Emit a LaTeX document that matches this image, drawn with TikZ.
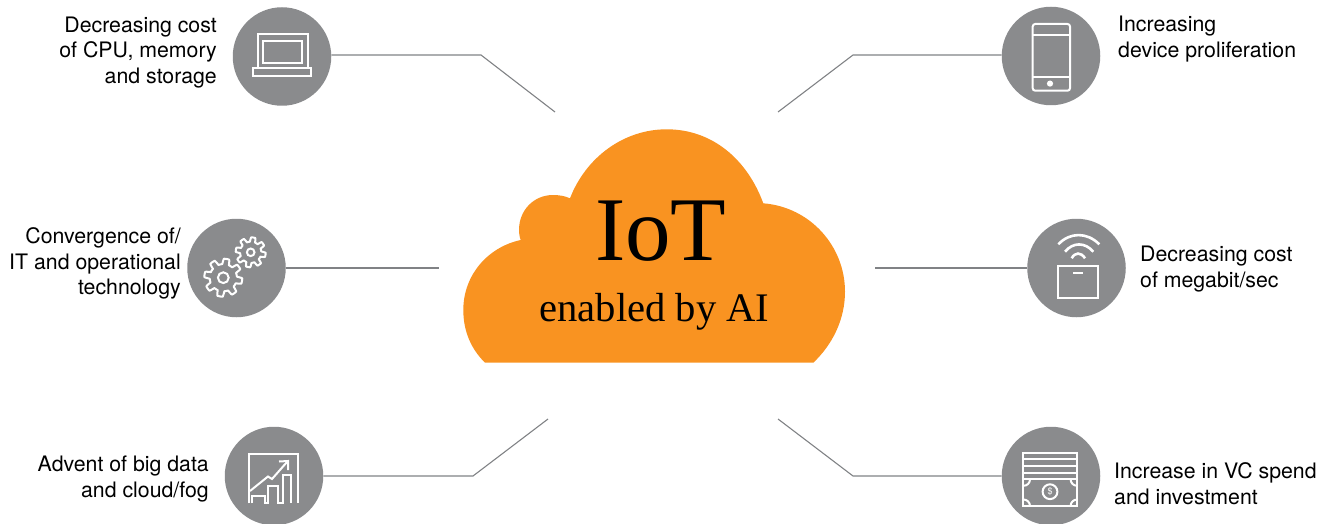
\documentclass[tikz,border=0pt]{standalone}
\usepackage{fontspec}
\setmainfont{TeX Gyre Heros}
\newfontfamily\cloudfont{Liberation Serif}
\definecolor{cloudorange}{HTML}{F99321}
\definecolor{discgray}{HTML}{8A8B8D}
\definecolor{linkgray}{HTML}{808285}
\tikzset{
  disc/.style={circle,fill=discgray,draw=none,minimum size=98.5pt,inner sep=0pt},
  link/.style={draw=linkgray,line width=1.1pt},
  icon/.style={draw=white,line width=2pt,line join=miter},
  lblr/.style={align=right,inner sep=0pt,font=\fontsize{21.3}{25.6}\selectfont},
  lbll/.style={align=left,inner sep=0pt,font=\fontsize{21.3}{25.6}\selectfont},
  gear/.style={icon,line join=round}
}
\newcommand{\geardraw}[4]{% cx cy R amp
  \draw[gear] plot[domain=0:360,samples=241,smooth] ({#1+(#3+#4*max(-1,min(1,2.5*sin(8*\x+10))))*cos(\x)},{#2+(#3+#4*max(-1,min(1,2.5*sin(8*\x+10))))*sin(\x)}) -- cycle;
}
\begin{document}
\begin{tikzpicture}[x=1pt,y=-1pt]
\useasboundingbox (0,0) rectangle (1328,524);
% cloud
\path[fill=cloudorange] (485,362.7)
  .. controls (471,349) and (463.3,331) .. (463.3,310)
  .. controls (463.3,275) and (488,247) .. (520.7,240)
  .. controls (519.5,237) and (519,233) .. (519,230)
  .. controls (519,210) and (534,195) .. (553,195)
  .. controls (559,195) and (565,196) .. (570,198.3)
  .. controls (586,157) and (624,129.3) .. (666.7,129.3)
  .. controls (712,129.3) and (747,159) .. (763.3,203.3)
  .. controls (810,207) and (845,246) .. (845,291.7)
  .. controls (845,320) and (832,345) .. (813.3,362.7) -- cycle;
\node[inner sep=0pt,anchor=base,font=\fontsize{91}{91}\cloudfont] (iot) at (660.7,260) {IoT};
\node[inner sep=0pt,anchor=base,font=\fontsize{40.6}{40}\cloudfont] (ai) at (654.5,321) {enabled by AI};
% discs
\node[disc] (tl) at (282,56.5) {};
\node[disc] (ml) at (236.5,268) {};
\node[disc] (bl) at (274,476) {};
\node[disc] (tr) at (1051,56) {};
\node[disc] (mr) at (1076.5,268) {};
\node[disc] (br) at (1051,476) {};
% connector ends
\coordinate (tlend) at (555,112);
\coordinate (tlknee) at (481,55);
\coordinate (mlend) at (439,268);
\coordinate (blend) at (548,419);
\coordinate (blknee) at (473,476);
\coordinate (trend) at (778,112);
\coordinate (trknee) at (853,55);
\coordinate (mrend) at (875,268);
\coordinate (brend) at (778,419);
\coordinate (brknee) at (853,476);
\draw[link] (tl.east |- tlknee) -- (tlknee) -- (tlend);
\draw[link] (ml.east) -- (mlend);
\draw[link] (bl.east) -- (blknee) -- (blend);
\draw[link] (tr.west |- trknee) -- (trknee) -- (trend);
\draw[link] (mr.west) -- (mrend);
\draw[link] (br.west) -- (brknee) -- (brend);
% labels
\node[lblr,anchor=east] (tltxt) at (217,52.5) {Decreasing cost\\of CPU, memory\\and storage};
\node[lblr,anchor=east] (mltxt) at (181,263.5) {Convergence of/\\IT and operational\\technology};
\node[lblr,anchor=east] (bltxt) at (209,479) {Advent of big data\\and cloud/fog};
\node[lbll,anchor=west] (trtxt) at (1118,39) {Increasing\\device proliferation};
\node[lbll,anchor=west] (mrtxt) at (1140,269) {Decreasing cost\\of megabit/sec};
\node[lbll,anchor=west] (brtxt) at (1114,483.5) {Increase in VC spend\\and investment};
% laptop
\draw[icon] (257.7,67.7) -- (257.7,34.3) -- (307.7,34.3) -- (307.7,67.7);
\draw[icon] (263.3,41) rectangle (301.7,63.3);
\draw[icon] (253.3,68.3) rectangle (311,76);
% gears
\geardraw{223.3}{277.7}{16.3}{2.7}
\draw[icon] (223.3,277.7) circle (5.4);
\geardraw{250.7}{252.3}{12.8}{2.2}
\draw[icon] (250.7,252.3) circle (3.8);
% chart
\draw[icon] (249,503.3) -- (249,454.3) -- (297.7,454.3) -- (297.7,503.3);
\draw[icon] (252,503.3) -- (252,495.5) -- (265,495.5) -- (265,503.3) -- (267.5,503.3) -- (267.5,486) -- (278,486) -- (278,503.3) -- (282.5,503.3) -- (282.5,475) -- (291,475) -- (291,503.3);
\draw[icon] (250,491) -- (268,476.5) -- (272,479) -- (287,462);
\draw[icon] (279,461.5) -- (288,461) -- (288,470);
% phone
\draw[icon,rounded corners=2.5pt] (1032.7,24) rectangle (1070,90.7);
\draw[icon] (1032.7,35) -- (1070,35) (1032.7,76.7) -- (1070,76.7);
\fill[white] (1050,83.6) circle (3.1);
% wifi box
\draw[icon] (1058.3,265.7) rectangle (1097.7,298.3);
\fill[white] (1072.7,271.7) rectangle (1082.7,273.7);
\draw[icon,line width=2.6pt] (1058.3,244.3) .. controls (1070,232) and (1087,232) .. (1099.3,244.3);
\draw[icon,line width=2.6pt] (1065,251.7) .. controls (1073,242) and (1085,242) .. (1093.3,251.7);
\draw[icon,line width=2.6pt] (1071.7,258.3) .. controls (1075,252) and (1081,252) .. (1085,258.3);
% money
\draw[icon] (1023.3,452.7) rectangle (1077.3,506);
\draw[icon] (1023.3,459.3) -- (1077.3,459.3) (1023.3,466) -- (1077.3,466) (1023.3,472.7) -- (1077.3,472.7) (1023.3,479.3) -- (1077.3,479.3);
\draw[icon] (1030,479.3) arc[start angle=0,end angle=90,radius=6.5];
\draw[icon] (1070.6,479.3) arc[start angle=180,end angle=90,radius=6.5];
\draw[icon] (1030,506) arc[start angle=0,end angle=-90,radius=6.5];
\draw[icon] (1070.6,506) arc[start angle=180,end angle=270,radius=6.5];
\draw[icon] (1050,491.7) circle (7.4);
\node[inner sep=0pt,text=white,font=\fontsize{9}{9}\selectfont] (dollar) at (1050,491.7) {\$};
\end{tikzpicture}
\end{document}
